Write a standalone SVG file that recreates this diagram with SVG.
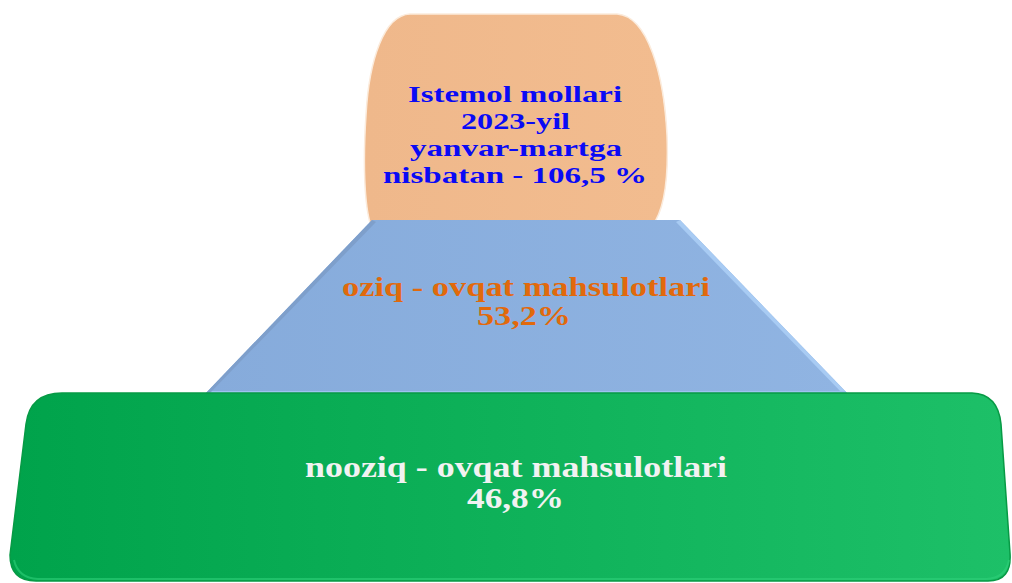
<svg xmlns="http://www.w3.org/2000/svg" width="1012" height="583" viewBox="0 0 1012 583">
  <defs>
    <linearGradient id="gGreen" x1="0" y1="0" x2="1" y2="0">
      <stop offset="0" stop-color="#00A34B"/>
      <stop offset="1" stop-color="#1DC068"/>
    </linearGradient>
    <linearGradient id="gBlue" x1="0" y1="0" x2="1" y2="0">
      <stop offset="0" stop-color="#86ABDB"/>
      <stop offset="1" stop-color="#90B4E2"/>
    </linearGradient>
    <linearGradient id="gOrange" x1="0" y1="0" x2="1" y2="0">
      <stop offset="0" stop-color="#EFB88B"/>
      <stop offset="1" stop-color="#F2BC8F"/>
    </linearGradient>
  </defs>
  <style>
    text { font-family: "Liberation Serif", "Times New Roman", serif; font-weight: bold; }
    .t1 { font-size: 24px; fill: #0A0AF5; }
    .t2 { font-size: 28px; fill: #E1690C; }
    .t3 { font-size: 30px; fill: #F2F2F2; }
  </style>
  <rect width="1012" height="583" fill="#FFFFFF"/>

  <g id="node-top">
    <path d="M 410 14 L 617 14 C 648 16 664 75 667 135 C 669 185 663 212 652 226 L 371 226 C 364 205 363 160 366 115 C 369 60 384 15 410 14 Z" fill="url(#gOrange)" stroke="#FBEBDC" stroke-width="1.5"/>
    <text class="t1" x="408" y="102" textLength="214" lengthAdjust="spacingAndGlyphs">Istemol mollari</text>
    <text class="t1" x="461" y="129" textLength="109" lengthAdjust="spacingAndGlyphs">2023-yil</text>
    <text class="t1" x="410" y="156" textLength="212" lengthAdjust="spacingAndGlyphs">yanvar-martga</text>
    <text class="t1" x="383" y="183" textLength="264" lengthAdjust="spacingAndGlyphs">nisbatan - 106,5 %</text>
  </g>

  <g id="node-middle">
    <path d="M 372 220 L 680 220 L 848 394 L 205 394 Z" fill="url(#gBlue)"/>
    <path d="M 680 220 L 848 394 L 843 394 L 676 222 Z" fill="#A8CBF3"/>
    <path d="M 208 391 L 845 391 L 848 394 L 205 394 Z" fill="#9EC3F0"/>
    <path d="M 372 220 L 376 222 L 209 394 L 205 394 Z" fill="#7E9FCB"/>
    <text class="t2" x="342" y="296" textLength="368" lengthAdjust="spacingAndGlyphs">oziq - ovqat mahsulotlari</text>
    <text class="t2" x="477" y="325" textLength="94" lengthAdjust="spacingAndGlyphs">53,2%</text>
  </g>

  <g id="node-bottom">
    <path d="M 62 393 L 972 393 Q 998 394 1001 424 L 1010 553 Q 1012 581 988 581 L 36 581 Q 10 581 10 555 L 26 424 Q 30 393 62 393 Z" fill="url(#gGreen)" stroke="#079A45" stroke-width="1.5"/>
    <path d="M 14 560 Q 18 578 38 579 L 986 579 Q 1006 578 1009 560" fill="none" stroke="#2ED07A" stroke-width="2" opacity="0.6"/>
    <text class="t3" x="305" y="477" textLength="422" lengthAdjust="spacingAndGlyphs">nooziq - ovqat mahsulotlari</text>
    <text class="t3" x="467" y="508" textLength="97" lengthAdjust="spacingAndGlyphs">46,8%</text>
  </g>
</svg>
